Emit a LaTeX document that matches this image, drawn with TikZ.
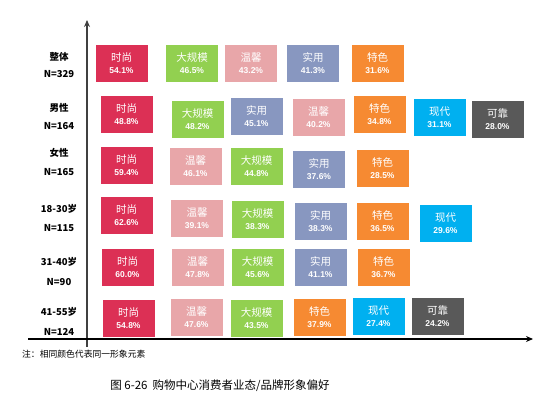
\documentclass[tikz,border=0pt]{standalone}
\usepackage{fontspec}
\setmainfont{Noto Sans CJK SC}
\newfontfamily\numfont{Liberation Sans}
\usetikzlibrary{arrows.meta}

\definecolor{cShishang}{HTML}{DC3055}
\definecolor{cGuimo}{HTML}{92D050}
\definecolor{cWenxin}{HTML}{E8A6A9}
\definecolor{cShiyong}{HTML}{8897C0}
\definecolor{cTese}{HTML}{F68A32}
\definecolor{cXiandai}{HTML}{00B0F0}
\definecolor{cKekao}{HTML}{595959}
\definecolor{cAxis}{HTML}{404040}

\newcommand{\pct}[1]{{\numfont\fontsize{8.5}{9}\selectfont\bfseries #1\%}}

\begin{document}
\begin{tikzpicture}[x=1pt,y=-1pt,
   tag/.style={minimum width=53pt,minimum height=38pt,inner sep=0pt,text=white,
     align=center,font=\fontsize{10.5}{11}\selectfont,draw=white,line width=0.6pt},
   shishang/.style={tag,fill=cShishang},
   guimo/.style={tag,fill=cGuimo},
   wenxin/.style={tag,fill=cWenxin},
   shiyong/.style={tag,fill=cShiyong},
   tese/.style={tag,fill=cTese},
   xiandai/.style={tag,fill=cXiandai},
   kekao/.style={tag,fill=cKekao},
   rowlab/.style={inner sep=0pt,font=\fontsize{9.5}{10}\selectfont\bfseries}]

   \useasboundingbox (0,0) rectangle (541,393);

   % axes
   \coordinate (ybot) at (87,347);
   \coordinate (ytop) at (87,20);
   \coordinate (xleft) at (28,339);
   \coordinate (xright) at (533,339);
   \draw [cAxis,line width=1.2pt,-{Stealth[length=7pt,width=6pt]}] (ybot) -- (ytop);

   % row 1
   \node [rowlab] (g1) at (59,57) {整体};
   \node [rowlab] (n1) at (59,74) {N=329};
   \node [shishang] (a1) at (121.5,63.5) {时尚\\[1pt]\pct{54.1}};
   \node [guimo] (b1) at (192,63.5) {大规模\\[1pt]\pct{46.5}};
   \node [wenxin] (c1) at (251,63.5) {温馨\\[1pt]\pct{43.2}};
   \node [shiyong] (d1) at (313,63.5) {实用\\[1pt]\pct{41.3}};
   \node [tese] (e1) at (377.5,63.5) {特色\\[1pt]\pct{31.6}};

   % row 2
   \node [rowlab] (g2) at (59,108) {男性};
   \node [rowlab] (n2) at (59,126) {N=164};
   \node [shishang] (a2) at (126.5,114.5) {时尚\\[1pt]\pct{48.8}};
   \node [guimo] (b2) at (197.5,119.5) {大规模\\[1pt]\pct{48.2}};
   \node [shiyong] (c2) at (256.5,116.5) {实用\\[1pt]\pct{45.1}};
   \node [wenxin] (d2) at (318.5,117) {温馨\\[1pt]\pct{40.2}};
   \node [tese] (e2) at (379.5,114) {特色\\[1pt]\pct{34.8}};
   \node [xiandai] (f2) at (439.5,117) {现代\\[1pt]\pct{31.1}};
   \node [kekao] (h2) at (497.5,119.5) {可靠\\[1pt]\pct{28.0}};

   % row 3
   \node [rowlab] (g3) at (59,153) {女性};
   \node [rowlab] (n3) at (59,172) {N=165};
   \node [shishang] (a3) at (126.5,165.5) {时尚\\[1pt]\pct{59.4}};
   \node [wenxin] (b3) at (195.5,166.5) {温馨\\[1pt]\pct{46.1}};
   \node [guimo] (c3) at (256.5,166.5) {大规模\\[1pt]\pct{44.8}};
   \node [shiyong] (d3) at (319,169) {实用\\[1pt]\pct{37.6}};
   \node [tese] (e3) at (382.5,168) {特色\\[1pt]\pct{28.5}};

   % row 4
   \node [rowlab] (g4) at (59,209) {18-30岁};
   \node [rowlab] (n4) at (59,228) {N=115};
   \node [shishang] (a4) at (126.5,215) {时尚\\[1pt]\pct{62.6}};
   \node [wenxin] (b4) at (197,218) {温馨\\[1pt]\pct{39.1}};
   \node [guimo] (c4) at (257.5,219.5) {大规模\\[1pt]\pct{38.3}};
   \node [shiyong] (d4) at (320.5,221) {实用\\[1pt]\pct{38.3}};
   \node [tese] (e4) at (382.5,221) {特色\\[1pt]\pct{36.5}};
   \node [xiandai] (f4) at (445.5,223) {现代\\[1pt]\pct{29.6}};

   % row 5
   \node [rowlab] (g5) at (59,262) {31-40岁};
   \node [rowlab] (n5) at (59,282) {N=90};
   \node [shishang] (a5) at (127.5,267.5) {时尚\\[1pt]\pct{60.0}};
   \node [wenxin] (b5) at (197.5,267.5) {温馨\\[1pt]\pct{47.8}};
   \node [guimo] (c5) at (257.5,267.5) {大规模\\[1pt]\pct{45.6}};
   \node [shiyong] (d5) at (320.5,267) {实用\\[1pt]\pct{41.1}};
   \node [tese] (e5) at (383.5,267.5) {特色\\[1pt]\pct{36.7}};

   % row 6
   \node [rowlab] (g6) at (59,312) {41-55岁};
   \node [rowlab] (n6) at (59,332) {N=124};
   \node [shishang] (a6) at (128.5,318.5) {时尚\\[1pt]\pct{54.8}};
   \node [wenxin] (b6) at (196.5,317) {温馨\\[1pt]\pct{47.6}};
   \node [guimo] (c6) at (256.5,318) {大规模\\[1pt]\pct{43.5}};
   \node [tese] (d6) at (319.5,317) {特色\\[1pt]\pct{37.9}};
   \node [xiandai] (e6) at (378.5,316.5) {现代\\[1pt]\pct{27.4}};
   \node [kekao] (f6) at (437.5,316.5) {可靠\\[1pt]\pct{24.2}};

   \draw [black,line width=1.2pt,-{Stealth[length=7pt,width=6pt]}] (xleft) -- (xright);

   \node [anchor=west,inner sep=0pt,font=\fontsize{8.8}{9}\selectfont] (note) at (22,354) {注：相同颜色代表同一形象元素};
   \node [inner sep=0pt,font=\fontsize{11.5}{12}\selectfont] (cap) at (220,386) {图 6-26\ \ 购物中心消费者业态/品牌形象偏好};

\end{tikzpicture}
\end{document}
